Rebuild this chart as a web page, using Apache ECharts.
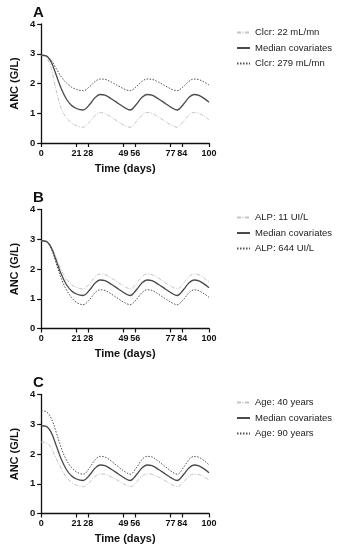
<!DOCTYPE html>
<html><head><meta charset="utf-8">
<script src="https://cdn.jsdelivr.net/npm/echarts@6/dist/echarts.min.js"></script>
<style>html,body{margin:0;padding:0;background:#fff}#c{width:339px;height:550px}</style>
</head><body><div id="c"></div>
<script>
const days = [0,3,6,9,12,15,18,21,25,29,32,35,38,42,46,50,53,57,60,63,66,70,74,78,81,85,88,91,94,97,100];
const xTicks = [0,21,28,49,56,77,84,100];
const yTicks = [0,1,2,3,4];

const median = [2.95,2.93,2.72,2.28,1.82,1.48,1.27,1.16,1.11,1.30,1.52,1.63,1.61,1.48,1.33,1.18,1.11,1.32,1.53,1.63,1.61,1.48,1.33,1.18,1.11,1.32,1.53,1.63,1.60,1.50,1.37];

const clcr22  = [2.95,2.90,2.50,1.75,1.15,0.85,0.68,0.58,0.53,0.72,0.92,1.02,0.99,0.86,0.71,0.58,0.53,0.74,0.93,1.03,1.00,0.87,0.72,0.59,0.53,0.74,0.93,1.03,1.00,0.90,0.78];
const clcr279 = [2.95,2.93,2.78,2.50,2.22,2.02,1.88,1.80,1.76,1.90,2.06,2.15,2.14,2.04,1.92,1.80,1.76,1.91,2.07,2.15,2.14,2.04,1.92,1.80,1.76,1.91,2.07,2.15,2.13,2.05,1.95];

const alp11  = [2.95,2.93,2.75,2.36,1.96,1.67,1.48,1.38,1.33,1.52,1.73,1.83,1.81,1.69,1.54,1.40,1.33,1.53,1.74,1.83,1.81,1.69,1.54,1.40,1.33,1.53,1.74,1.83,1.80,1.70,1.57];
const alp644 = [2.95,2.92,2.68,2.18,1.68,1.30,1.05,0.88,0.80,0.98,1.20,1.30,1.28,1.15,1.00,0.86,0.80,0.99,1.20,1.30,1.28,1.15,1.00,0.86,0.80,0.99,1.20,1.30,1.27,1.17,1.05];

const age40 = [2.40,2.38,2.20,1.85,1.50,1.22,1.05,0.95,0.90,1.06,1.24,1.33,1.32,1.22,1.10,0.97,0.90,1.07,1.25,1.33,1.32,1.22,1.10,0.97,0.90,1.07,1.25,1.33,1.31,1.23,1.13];
const age90 = [3.45,3.42,3.20,2.72,2.20,1.80,1.55,1.40,1.32,1.55,1.80,1.92,1.90,1.75,1.57,1.40,1.32,1.56,1.81,1.92,1.90,1.75,1.57,1.40,1.32,1.56,1.81,1.92,1.89,1.78,1.64];

const panels = [
  {letter:'A', low:'Clcr: 22 mL/mn', lowData:clcr22, high:'Clcr: 279 mL/mn', highData:clcr279, top:24, legTop:27.5},
  {letter:'B', low:'ALP: 11 UI/L', lowData:alp11, high:'ALP: 644 UI/L', highData:alp644, top:209.5, legTop:212.5},
  {letter:'C', low:'Age: 40 years', lowData:age40, high:'Age: 90 years', highData:age90, top:394.5, legTop:397.5}
];

const FONT = 'Liberation Sans, Arial, sans-serif';
const grids=[], xAxes=[], yAxes=[], series=[], legends=[], graphics=[];
const pair = arr => days.map((d,i)=>[d,arr[i]]);
const lightStyle = {color:'#c4c4c4', width:1, type:[4,1.5,1,1.5]};
const medStyle = {color:'#4a4a4a', width:1.3, type:'solid'};
const dotStyle = {color:'#505050', width:1, type:[1.5,1.5]};

panels.forEach((p,i)=>{
  grids.push({left:30.7, width:178.3, top:p.top, height:119});
  xAxes.push({
    type:'value', gridIndex:i, min:0, max:100, interval:1,
    name:'Time (days)', nameLocation:'middle', nameGap:20,
    nameTextStyle:{fontFamily:FONT, fontWeight:'bold', fontSize:11, color:'#111'},
    axisLine:{lineStyle:{color:'#111', width:1.3}},
    axisTick:{show:true, length:4, lineStyle:{color:'#111', width:1.2}, customValues:xTicks},
    axisLabel:{customValues:xTicks, fontFamily:FONT, fontWeight:'bold', fontSize:9, color:'#111', margin:6},
    splitLine:{show:false}
  });
  yAxes.push({
    type:'value', gridIndex:i, min:0, max:4, interval:1,
    name:'ANC (G/L)', nameLocation:'middle', nameGap:21, nameRotate:90,
    nameTextStyle:{fontFamily:FONT, fontWeight:'bold', fontSize:11, color:'#111'},
    axisLine:{show:true, lineStyle:{color:'#111', width:1.3}},
    axisTick:{show:true, length:4, lineStyle:{color:'#111', width:1.2}},
    axisLabel:{fontFamily:FONT, fontWeight:'bold', fontSize:9.5, color:'#111', margin:6},
    splitLine:{show:false}
  });
  const mk = (name, data, ls, z) => ({
    name, type:'line', xAxisIndex:i, yAxisIndex:i, data:pair(data), smooth:0.35,
    symbol:'none', lineStyle:ls, itemStyle:{color:ls.color}, z, silent:true, animation:false
  });
  series.push(mk(p.low, p.lowData, lightStyle, 2));
  series.push(mk('Median covariates', median, medStyle, 3));
  series.push(mk(p.high, p.highData, dotStyle, 2));
  legends.push({
    data:[p.low,'Median covariates',p.high], orient:'vertical', left:236, top:p.legTop,
    itemWidth:13, itemHeight:10, itemGap:5.5, selectedMode:false, padding:0,
    itemStyle:{opacity:0},
    textStyle:{fontFamily:FONT, fontSize:9.5, color:'#222'}
  });
  graphics.push({type:'text', left:33, top:p.top-19, style:{text:p.letter, fontFamily:FONT, fontWeight:'bold', fontSize:15, fill:'#111'}});
});

const chart = echarts.init(document.getElementById('c'), null, {renderer:'canvas'});
chart.setOption({
  animation:false, backgroundColor:'#fff',
  grid:grids, xAxis:xAxes, yAxis:yAxes, series, legend:legends, graphic:graphics
});
</script></body></html>
